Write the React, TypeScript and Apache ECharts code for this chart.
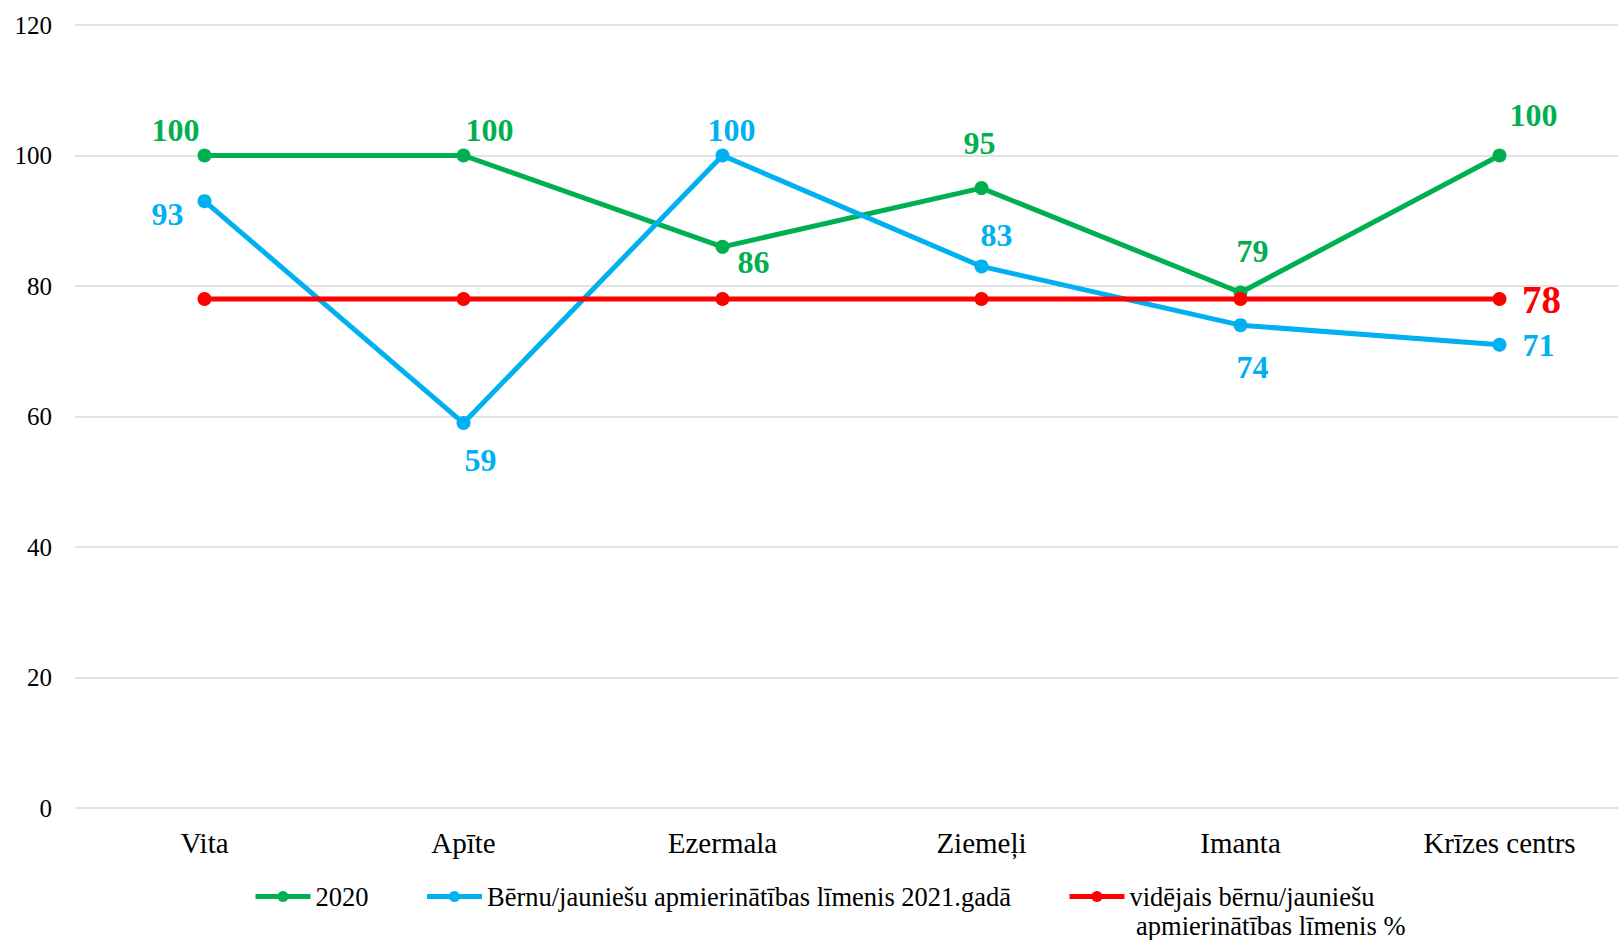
import React, { useEffect, useRef } from "react";
import * as echarts from "echarts";

const categories = ["Vita", "Apīte", "Ezermala", "Ziemeļi", "Imanta", "Krīzes centrs"];
const series2020 = [100, 100, 86, 95, 79, 100];
const series2021 = [93, 59, 100, 83, 74, 71];
const seriesAvg = [78, 78, 78, 78, 78, 78];
const yTicks = { min: 0, max: 120, interval: 20 };

const name2020 = "2020";
const name2021 = "Bērnu/jauniešu apmierinātības līmenis 2021.gadā";
const nameAvg = "vidējais bērnu/jauniešu apmierinātības līmenis %";
const nameAvgLines = ["vidējais bērnu/jauniešu", " apmierinātības līmenis %"];

// layout-only label offsets (pixels)
const offsets2020 = [[-29, -26], [26, -26], [31, 15], [-2, -45], [12, -42], [34, -41]];
const offsets2021 = [[-37, 13], [17, 37], [9, -26], [15, -31], [12, 42], [39, 0]];

const GREEN = "#00B050";
const BLUE = "#00B0F0";
const RED = "#FF0000";
const FONT = "'Liberation Serif', 'Times New Roman', serif";

export default function App() {
  const ref = useRef<HTMLDivElement>(null);
  useEffect(() => {
    if (!ref.current) return;
    const chart = echarts.init(ref.current, undefined, { renderer: "svg" });
    const labelStyle = (color: string, size: number) => ({
      show: true,
      position: "inside",
      color,
      fontFamily: FONT,
      fontWeight: "bold",
      fontSize: size,
    });
    chart.setOption({
      animation: false,
      textStyle: { fontFamily: FONT },
      grid: {
        left: 75,
        right: -11,
        top: 25,
        bottom: 132,
        containLabel: false,
        outerBoundsMode: "none",
      },
      legend: {
        left: 253,
        top: 853,
        padding: 0,
        itemWidth: 55,
        itemHeight: 14,
        itemGap: 56,
        lineStyle: { width: 5 },
        textStyle: { fontFamily: FONT, fontSize: 26.5, color: "#000", lineHeight: 29 },
        formatter: (name: string) =>
          name === nameAvg ? "\n" + nameAvgLines.join("\n") : name,
        data: [{ name: name2020 }, { name: name2021 }, { name: nameAvg }],
      },
      xAxis: {
        type: "category",
        data: categories,
        boundaryGap: true,
        axisLine: { show: false },
        axisTick: { show: false },
        axisLabel: { fontFamily: FONT, fontSize: 29, color: "#000", margin: 20 },
      },
      yAxis: {
        type: "value",
        min: yTicks.min,
        max: yTicks.max,
        interval: yTicks.interval,
        axisLine: { show: false },
        axisTick: { show: false },
        axisLabel: { fontFamily: FONT, fontSize: 25, color: "#000", margin: 23 },
        splitLine: { lineStyle: { color: "#D9D9D9", width: 1.5 } },
      },
      series: [
        {
          name: name2020,
          type: "line",
          data: series2020.map((v, i) => ({
            value: v,
            label: { ...labelStyle(GREEN, 32), offset: offsets2020[i] },
          })),
          symbol: "circle",
          symbolSize: 14,
          lineStyle: { color: GREEN, width: 5 },
          itemStyle: { color: GREEN },
        },
        {
          name: name2021,
          type: "line",
          data: series2021.map((v, i) => ({
            value: v,
            label: { ...labelStyle(BLUE, 32), offset: offsets2021[i] },
          })),
          symbol: "circle",
          symbolSize: 14,
          lineStyle: { color: BLUE, width: 5 },
          itemStyle: { color: BLUE },
        },
        {
          name: nameAvg,
          type: "line",
          data: seriesAvg.map((v, i) => ({
            value: v,
            label:
              i === seriesAvg.length - 1
                ? { ...labelStyle(RED, 39), offset: [42, 0] }
                : { show: false },
          })),
          symbol: "circle",
          symbolSize: 14,
          lineStyle: { color: RED, width: 5 },
          itemStyle: { color: RED },
        },
      ],
    });
    return () => chart.dispose();
  }, []);
  return (
    <div
      ref={ref}
      style={{ position: "absolute", left: 0, top: 0, width: 1618, height: 940, background: "#fff" }}
    />
  );
}
